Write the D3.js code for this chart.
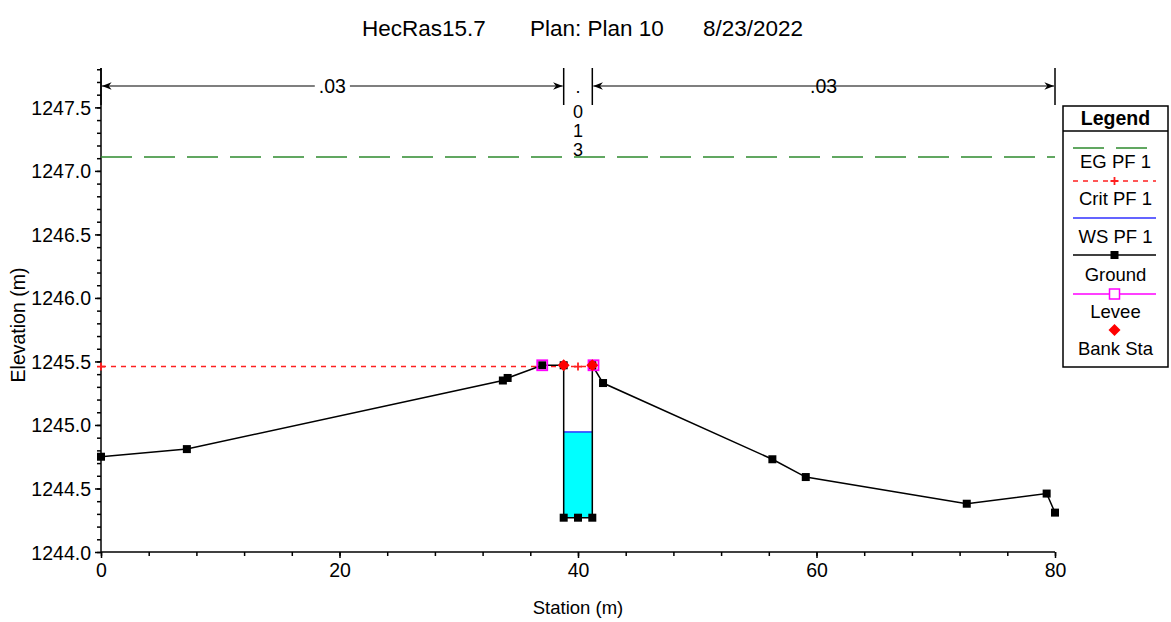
<!DOCTYPE html>
<html>
<head>
<meta charset="utf-8">
<script src="https://cdn.jsdelivr.net/npm/d3@7"></script>
<style>
  html, body { margin: 0; padding: 0; background: #fff; }
  svg { display: block; font-family: "Liberation Sans", Arial, sans-serif; }
</style>
</head>
<body>
<svg id="chart" width="1171" height="622"></svg>
<script>
// ---- Data ----
const groundStation = [0, 7.2, 33.7, 34.1, 37.0, 38.8, 38.8, 40.0, 41.2, 41.2, 42.1, 56.3, 59.1, 72.6, 79.3, 80.0];
const groundElev    = [1244.75, 1244.81, 1245.35, 1245.37, 1245.47, 1245.47, 1244.27, 1244.27, 1244.27, 1245.47, 1245.33, 1244.73, 1244.59, 1244.38, 1244.46, 1244.31];
const wsStation = [38.8, 41.2];
const wsElev = 1244.945;
const egElev = 1247.11;
const egStation = [0, 80];
const critElev = 1245.46;
const critStation = [0, 41.2];
const critMarkers = [0, 40.0];
const leveeStation = [37.0, 41.3];
const leveeElev = [1245.47, 1245.47];
const bankStation = [38.8, 41.2];
const bankElev = [1245.47, 1245.47];
const nBreaks = [0, 38.8, 41.2, 80];
const nValues = [".03", ".013", ".03"];
const xTicks = [0, 20, 40, 60, 80];
const yTicks = [1244.0, 1244.5, 1245.0, 1245.5, 1246.0, 1246.5, 1247.0, 1247.5];
const legendItems = ["EG PF 1", "Crit PF 1", "WS PF 1", "Ground", "Levee", "Bank Sta"];
const titleParts = ["HecRas15.7", "Plan: Plan 10", "8/23/2022"];

// ---- Layout ----
const L = 101, R = 1055, T = 68, B = 552;
const svg = d3.select("#chart");
const x = d3.scaleLinear().domain([0, 80]).range([L, R]);
const y = d3.scaleLinear().domain([1244.0, 1247.81]).range([B, T]);

const COL = { eg: "#2e8b2e", crit: "#ff2020", ws: "#3030ff", ground: "#000", levee: "#ff00ff", bank: "#ff0000", water: "#00ffff" };
const FF = "Liberation Sans, Arial, sans-serif";

// Title
const title = svg.append("g").attr("font-size", 22.5).attr("fill", "#000");
title.append("text").attr("x", 362).attr("y", 36).text(titleParts[0]);
title.append("text").attr("x", 530).attr("y", 36).text(titleParts[1]);
title.append("text").attr("x", 703).attr("y", 36).text(titleParts[2]);

// Axes
const fs = 19.5;
const yAxis = svg.append("g").attr("transform", `translate(${L},0)`)
  .call(d3.axisLeft(y).tickValues(yTicks).tickFormat(d3.format(".1f")).tickSize(6).tickSizeOuter(0));
yAxis.select(".domain").remove();
yAxis.selectAll("text").attr("font-size", fs).attr("font-family", FF).attr("dx", "-1").attr("dy", "0.36em");
yAxis.selectAll("line").attr("stroke-width", 1.5);
const yMinor = d3.range(1244.0, 1247.81, 0.1);
svg.append("g").attr("transform", `translate(${L},0)`)
  .call(d3.axisLeft(y).tickValues(yMinor).tickFormat("").tickSize(4).tickSizeOuter(0))
  .call(g => g.select(".domain").remove())
  .selectAll("line").attr("stroke-width", 1.5);
svg.append("line").attr("x1", L).attr("x2", L).attr("y1", T).attr("y2", B).attr("stroke", "#000").attr("stroke-width", 1.5);

const xAxis = svg.append("g").attr("transform", `translate(0,${B})`)
  .call(d3.axisBottom(x).tickValues(xTicks).tickFormat(d3.format("d")).tickSize(6).tickSizeOuter(0));
xAxis.select(".domain").remove();
xAxis.selectAll("text").attr("font-size", fs).attr("font-family", FF).attr("dy", "0.8em");
xAxis.selectAll("line").attr("stroke-width", 1.5);
svg.append("g").attr("transform", `translate(0,${B})`)
  .call(d3.axisBottom(x).tickValues(d3.range(0, 81, 4)).tickFormat("").tickSize(4).tickSizeOuter(0))
  .call(g => g.select(".domain").remove())
  .selectAll("line").attr("stroke-width", 1.5);
svg.append("line").attr("x1", L).attr("x2", R).attr("y1", B).attr("y2", B).attr("stroke", "#000").attr("stroke-width", 1.5);

// Axis titles
svg.append("text").attr("x", 578).attr("y", 614).attr("text-anchor", "middle").attr("font-size", 18.5).text("Station (m)");
svg.append("text").attr("transform", `translate(25,325) rotate(-90)`).attr("text-anchor", "middle").attr("font-size", 19.5).text("Elevation (m)");

// Manning's n annotation
const nG = svg.append("g");
const defs = svg.append("defs");
defs.append("marker").attr("id", "arr").attr("viewBox", "0 0 10 10").attr("refX", 10).attr("refY", 5)
  .attr("markerWidth", 8).attr("markerHeight", 8).attr("orient", "auto-start-reverse")
  .append("path").attr("d", "M0,1 L10,5 L0,9 L3,5 Z").attr("fill", "#000");
nBreaks.forEach(b => {
  nG.append("line").attr("x1", x(b)).attr("x2", x(b)).attr("y1", T).attr("y2", 105).attr("stroke", "#000").attr("stroke-width", 1.5);
});
nValues.forEach((v, i) => {
  const x0 = x(nBreaks[i]), x1 = x(nBreaks[i + 1]);
  const mid = (x0 + x1) / 2;
  if (x1 - x0 > 60) {
    nG.append("line").attr("x1", x0 + 1).attr("x2", x1 - 1).attr("y1", 86).attr("y2", 86)
      .attr("stroke", "#000").attr("stroke-width", 1.2)
      .attr("marker-start", "url(#arr)").attr("marker-end", "url(#arr)");
    const t = nG.append("text").attr("x", mid).attr("y", 93).attr("text-anchor", "middle").attr("font-size", fs).text(v);
    const bb = t.node().getBBox();
    nG.insert("rect", "text").attr("x", bb.x - 4).attr("y", bb.y).attr("width", bb.width + 8).attr("height", bb.height).attr("fill", "#fff");
  } else {
    v.split("").forEach((c, j) => {
      nG.append("text").attr("x", mid).attr("y", 99 + j * 19 - (j === 0 ? 6 : 0)).attr("text-anchor", "middle").attr("font-size", 18).text(c);
    });
  }
});

// Water fill
svg.append("rect").attr("x", x(wsStation[0])).attr("y", y(wsElev))
  .attr("width", x(wsStation[1]) - x(wsStation[0])).attr("height", y(1244.27) - y(wsElev))
  .attr("fill", COL.water);
svg.append("line").attr("x1", x(wsStation[0])).attr("x2", x(wsStation[1])).attr("y1", y(wsElev)).attr("y2", y(wsElev))
  .attr("stroke", COL.ws).attr("stroke-width", 1.5);

// EG
svg.append("line").attr("x1", x(egStation[0])).attr("x2", x(egStation[1])).attr("y1", y(egElev)).attr("y2", y(egElev))
  .attr("stroke", COL.eg).attr("stroke-width", 1.5).attr("stroke-dasharray", "31,12");

// Crit
svg.append("line").attr("x1", x(critStation[0])).attr("x2", x(critStation[1])).attr("y1", y(critElev)).attr("y2", y(critElev))
  .attr("stroke", COL.crit).attr("stroke-width", 1.5).attr("stroke-dasharray", "5,5");
critMarkers.forEach(s => {
  svg.append("path").attr("d", `M${x(s) - 4},${y(critElev)} h8 M${x(s)},${y(critElev) - 4} v8`).attr("stroke", COL.crit).attr("stroke-width", 1.8);
});

// Ground
const pts = groundStation.map((s, i) => [s, groundElev[i]]);
svg.append("path").attr("d", d3.line().x(d => x(d[0])).y(d => y(d[1]))(pts))
  .attr("fill", "none").attr("stroke", COL.ground).attr("stroke-width", 1.5);
svg.selectAll(".gm").data(pts).enter().append("rect")
  .attr("x", d => x(d[0]) - 4).attr("y", d => y(d[1]) - 4).attr("width", 8).attr("height", 8).attr("fill", "#000");

// Levee
leveeStation.forEach((s, i) => {
  svg.append("rect").attr("x", x(s) - 5).attr("y", y(leveeElev[i]) - 5).attr("width", 10).attr("height", 10)
    .attr("fill", "none").attr("stroke", COL.levee).attr("stroke-width", 1.8);
});
// Bank stations
bankStation.forEach((s, i) => {
  const cx = x(s), cy = y(bankElev[i]);
  svg.append("path").attr("d", `M${cx},${cy - 6} L${cx + 6},${cy} L${cx},${cy + 6} L${cx - 6},${cy} Z`).attr("fill", COL.bank);
});

// Legend
const lg = svg.append("g");
const LX = 1063, LW = 105, LT = 106, LB = 367;
lg.append("rect").attr("x", LX).attr("y", LT).attr("width", LW).attr("height", LB - LT).attr("fill", "#fff").attr("stroke", "#000").attr("stroke-width", 1.5);
lg.append("line").attr("x1", LX).attr("x2", LX + LW).attr("y1", 131).attr("y2", 131).attr("stroke", "#000").attr("stroke-width", 1.5);
lg.append("text").attr("x", LX + LW / 2).attr("y", 125).attr("text-anchor", "middle").attr("font-size", 19.5).attr("font-weight", "bold").text("Legend");
const sx0 = 1073, sx1 = 1156, smid = (sx0 + sx1) / 2;
const symY = [148, 181, 218, 255, 294, 330];
const labY = [168, 205, 243, 281, 318, 355];
// EG
lg.append("line").attr("x1", sx0).attr("x2", sx1).attr("y1", symY[0]).attr("y2", symY[0]).attr("stroke", COL.eg).attr("stroke-width", 1.5).attr("stroke-dasharray", "31,12");
// Crit
lg.append("line").attr("x1", sx0).attr("x2", sx1).attr("y1", symY[1]).attr("y2", symY[1]).attr("stroke", COL.crit).attr("stroke-width", 1.5).attr("stroke-dasharray", "5,5");
lg.append("path").attr("d", `M${smid - 4},${symY[1]} h8 M${smid},${symY[1] - 4} v8`).attr("stroke", COL.crit).attr("stroke-width", 1.8);
// WS
lg.append("line").attr("x1", sx0).attr("x2", sx1).attr("y1", symY[2]).attr("y2", symY[2]).attr("stroke", COL.ws).attr("stroke-width", 1.5);
// Ground
lg.append("line").attr("x1", sx0).attr("x2", sx1).attr("y1", symY[3]).attr("y2", symY[3]).attr("stroke", "#000").attr("stroke-width", 1.5);
lg.append("rect").attr("x", smid - 4).attr("y", symY[3] - 4).attr("width", 8).attr("height", 8).attr("fill", "#000");
// Levee
lg.append("line").attr("x1", sx0).attr("x2", sx1).attr("y1", symY[4]).attr("y2", symY[4]).attr("stroke", COL.levee).attr("stroke-width", 1.5);
lg.append("rect").attr("x", smid - 5).attr("y", symY[4] - 5).attr("width", 10).attr("height", 10).attr("fill", "#fff").attr("stroke", COL.levee).attr("stroke-width", 1.5);
// Bank
lg.append("path").attr("d", `M${smid},${symY[5] - 6} L${smid + 6},${symY[5]} L${smid},${symY[5] + 6} L${smid - 6},${symY[5]} Z`).attr("fill", COL.bank);
legendItems.forEach((t, i) => {
  lg.append("text").attr("x", LX + LW / 2).attr("y", labY[i]).attr("text-anchor", "middle").attr("font-size", 18.5).text(t);
});
</script>
</body>
</html>
